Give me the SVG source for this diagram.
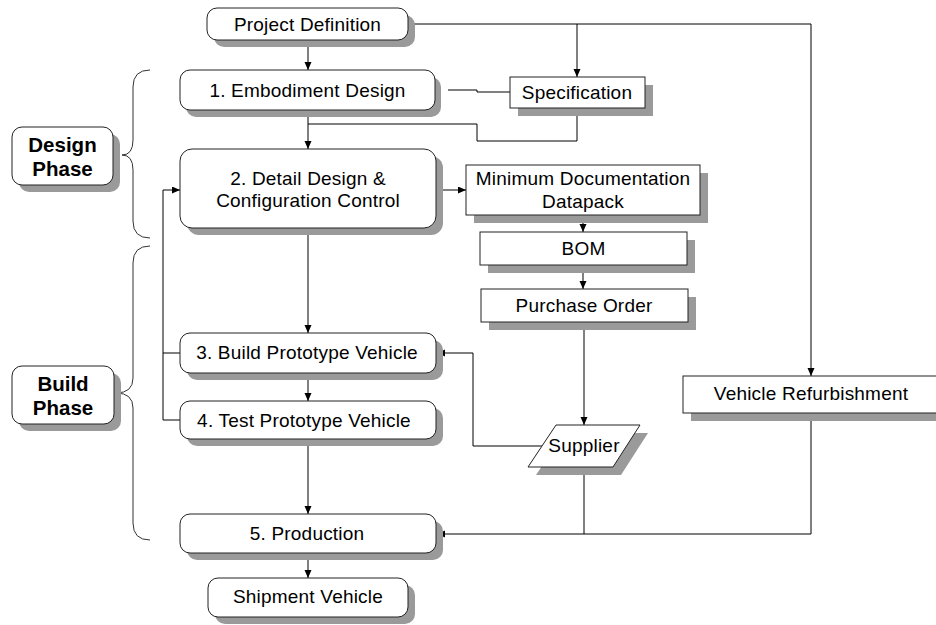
<svg xmlns="http://www.w3.org/2000/svg" width="936" height="625" viewBox="0 0 936 625">
  <defs>
    <marker id="arrow" markerUnits="userSpaceOnUse" markerWidth="9" markerHeight="8" refX="8" refY="3.5" orient="auto">
      <path d="M0,0 L8,3.5 L0,7 z" fill="#000"/>
    </marker>
  </defs>
  <style>
    .sh { fill: #9a9a9a; stroke: none; }
    .box { fill: #fff; stroke: #222; stroke-width: 1; }
    .t { font-family: "Liberation Sans", Arial, sans-serif; font-size: 19px; fill: #000; text-anchor: middle; letter-spacing: 0.2px; }
    .tb { font-family: "Liberation Sans", Arial, sans-serif; font-size: 20.5px; font-weight: bold; fill: #000; text-anchor: middle; }
    .ln { fill: none; stroke: #000; stroke-width: 1; }
    .arr { fill: none; stroke: #000; stroke-width: 1; marker-end: url(#arrow); }
    .brace { fill: none; stroke: #333; stroke-width: 1; }
  </style>
  <rect width="936" height="625" fill="#fff"/>

  <!-- phase braces and labels -->
  <g id="design-phase">
    <path class="brace" d="M150,70 Q133,70 133,87 V140 Q133,155 122,155 Q133,155 133,170 V221 Q133,238 150,238"/>
    <rect class="sh" x="19" y="134" width="101" height="58" rx="10"/>
    <rect class="box" x="12" y="127" width="101" height="58" rx="10"/>
    <text class="tb" x="62.5" y="152">Design</text>
    <text class="tb" x="62.5" y="176">Phase</text>
  </g>
  <g id="build-phase">
    <path class="brace" d="M150,246 Q133,246 133,263 V378 Q133,393 116,393 Q133,393 133,408 V523 Q133,540 150,540"/>
    <rect class="sh" x="19" y="373" width="102" height="58" rx="10"/>
    <rect class="box" x="12" y="366" width="102" height="58" rx="10"/>
    <text class="tb" x="63" y="391">Build</text>
    <text class="tb" x="63" y="415">Phase</text>
  </g>

  <!-- connectors -->
  <g id="connectors">
    <path class="arr" d="M308,40 V70"/>
    <path class="arr" d="M408,24 H811 V376"/>
    <path class="arr" d="M577,24 V77"/>
    <path class="ln" d="M448,90 H477 V92 H510"/>
    <path class="arr" d="M308,110 V149"/>
    <path class="ln" d="M577,108 V141 H477 V124 H308"/>
    <path class="arr" d="M436,190 H466"/>
    <path class="arr" d="M583,215 V232"/>
    <path class="arr" d="M583,265 V289"/>
    <path class="arr" d="M584,322 V425"/>
    <path class="arr" d="M308,228 V333"/>
    <path class="arr" d="M308,373 V401"/>
    <path class="arr" d="M308,439 V514"/>
    <path class="arr" d="M308,553 V578"/>
    <path class="arr" d="M542,446 H473 V353 H437"/>
    <path class="arr" d="M180,420 H163 V190 H180"/>
    <path class="ln" d="M163,353 H180"/>
    <path class="ln" d="M584,467 V534"/>
    <path class="arr" d="M811,413 V534 H437"/>
  </g>

  <!-- process nodes -->
  <g id="project-definition">
    <rect class="sh" x="214" y="15" width="201" height="32" rx="10"/>
    <rect class="box" x="207" y="8" width="201" height="32" rx="10"/>
    <text class="t" x="307.5" y="31">Project Definition</text>
  </g>
  <g id="embodiment-design">
    <rect class="sh" x="186" y="77" width="255" height="40" rx="10"/>
    <rect class="box" x="180" y="70" width="255" height="40" rx="10"/>
    <text class="t" x="307.5" y="97">1. Embodiment Design</text>
  </g>
  <g id="specification">
    <rect class="sh" x="518" y="85" width="135" height="31"/>
    <rect class="box" x="510" y="77" width="135" height="31"/>
    <text class="t" x="577" y="99">Specification</text>
  </g>
  <g id="detail-design">
    <rect class="sh" x="187" y="156" width="256" height="79" rx="12"/>
    <rect class="box" x="180" y="149" width="256" height="79" rx="12"/>
    <text class="t" x="308" y="185">2. Detail Design &amp;</text>
    <text class="t" x="308" y="207">Configuration Control</text>
  </g>
  <g id="documentation-datapack">
    <rect class="sh" x="474" y="173" width="234" height="50"/>
    <rect class="box" x="466" y="165" width="234" height="50"/>
    <text class="t" x="583" y="185">Minimum Documentation</text>
    <text class="t" x="583" y="208">Datapack</text>
  </g>
  <g id="bom">
    <rect class="sh" x="488" y="240" width="207" height="33"/>
    <rect class="box" x="480" y="232" width="207" height="33"/>
    <text class="t" x="583.5" y="255">BOM</text>
  </g>
  <g id="purchase-order">
    <rect class="sh" x="489" y="297" width="207" height="33"/>
    <rect class="box" x="481" y="289" width="207" height="33"/>
    <text class="t" x="584" y="312">Purchase Order</text>
  </g>
  <g id="build-prototype">
    <rect class="sh" x="187" y="340" width="256" height="40" rx="10"/>
    <rect class="box" x="180" y="333" width="256" height="40" rx="10"/>
    <text class="t" x="307" y="359">3. Build Prototype Vehicle</text>
  </g>
  <g id="test-prototype">
    <rect class="sh" x="187" y="408" width="256" height="38" rx="10"/>
    <rect class="box" x="180" y="401" width="256" height="38" rx="10"/>
    <text class="t" x="304" y="427">4. Test Prototype Vehicle</text>
  </g>
  <g id="supplier">
    <polygon class="sh" points="564,433 648,433 621,475 536,475"/>
    <polygon class="box" points="556,425 640,425 613,467 528,467"/>
    <text class="t" x="584" y="452">Supplier</text>
  </g>
  <g id="vehicle-refurbishment">
    <rect class="sh" x="691" y="384" width="260" height="37"/>
    <rect class="box" x="683" y="376" width="260" height="37"/>
    <text class="t" x="811" y="400">Vehicle Refurbishment</text>
  </g>
  <g id="production">
    <rect class="sh" x="187" y="521" width="256" height="39" rx="10"/>
    <rect class="box" x="180" y="514" width="256" height="39" rx="10"/>
    <text class="t" x="307" y="540">5. Production</text>
  </g>
  <g id="shipment-vehicle">
    <rect class="sh" x="215" y="585" width="200" height="39" rx="10"/>
    <rect class="box" x="208" y="578" width="200" height="39" rx="10"/>
    <text class="t" x="308" y="603">Shipment Vehicle</text>
  </g>
</svg>
